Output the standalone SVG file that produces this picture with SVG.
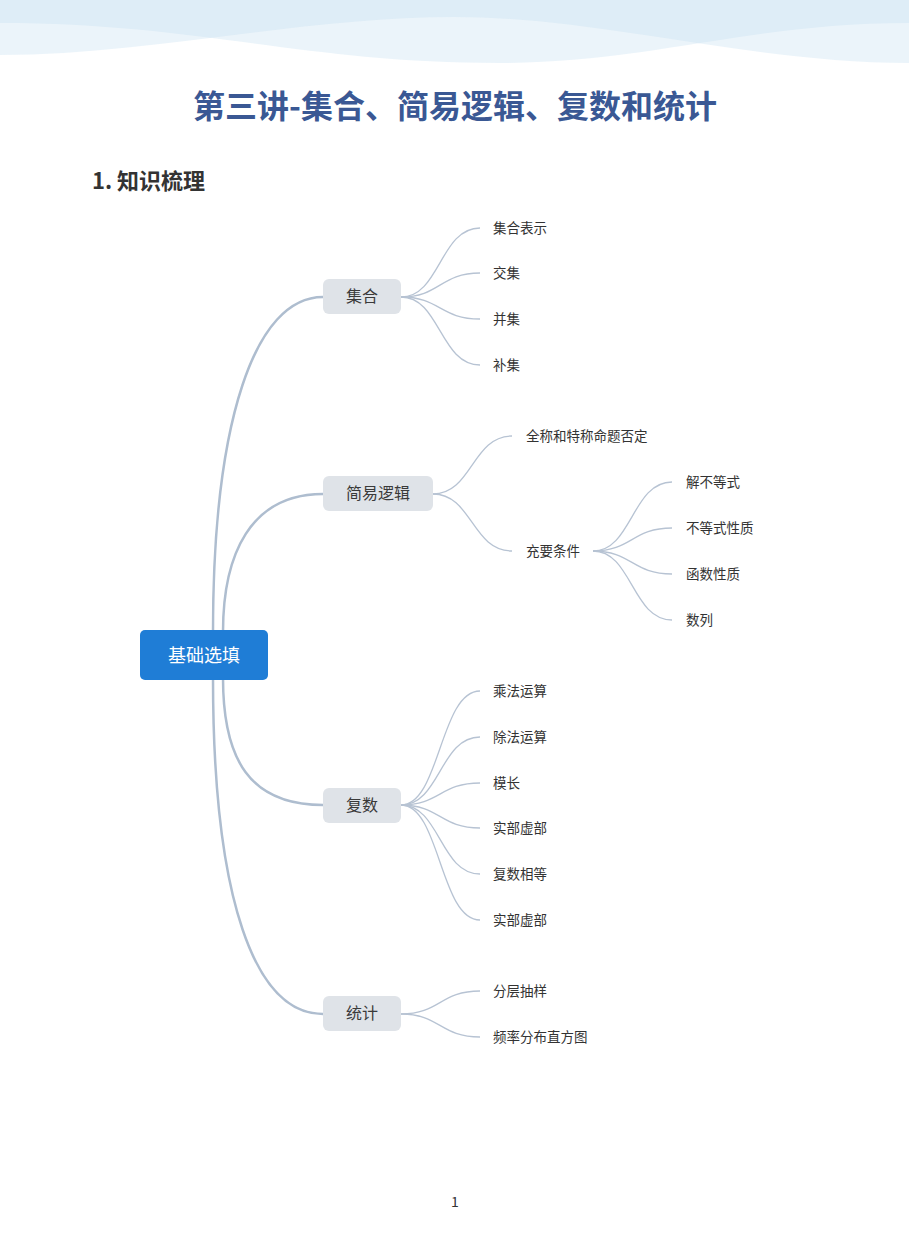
<svg xmlns="http://www.w3.org/2000/svg" width="909" height="1233" viewBox="0 0 909 1233">
<style>
.cjk{font-family:"Noto Sans CJK SC","Noto Sans",sans-serif;}
.title{font-size:32px;font-weight:bold;fill:#3a5894;}
.h1{font-size:22px;font-weight:bold;fill:#333333;}
.root{fill:#1f7dd6;}
.rootText{font-size:18px;fill:#ffffff;}
.l1{fill:#dfe3e8;}
.l1Text{font-size:16px;fill:#3a3a3a;}
.leaf{font-size:13.5px;fill:#333333;}
.main{fill:none;stroke:#aebdcf;stroke-width:2.5;}
.sub{fill:none;stroke:#b7c3d3;stroke-width:1.3;}
.wave{fill:#c5e0f2;fill-opacity:0.35;}
</style>
<rect width="909" height="1233" fill="#ffffff"/>
<g id="header">
<path class="wave" d="M0,0 H909 V23 C750,23 650,63 500,63 C300,63 200,23 0,23 Z"/>
<path class="wave" d="M0,0 H909 V63 C750,63 600,17 455,17 C300,17 150,55 0,55 Z"/>
</g>
<text class="cjk title" x="455" y="118" text-anchor="middle">第三讲-集合、简易逻辑、复数和统计</text>
<text class="cjk h1" x="92" y="189">1. 知识梳理</text>
<g id="connectors">
<path class="main" d="M213,632 C213,420 255,297 323,297"/>
<path class="main" d="M223,632 C223,555 250,494 323,494"/>
<path class="main" d="M223,678 C223,760 250,805 323,805"/>
<path class="main" d="M213,678 C213,900 255,1014 323,1014"/>
<path class="sub" d="M401,297 C440,297 440,228 480,228"/>
<path class="sub" d="M401,297 C440,297 440,273 480,273"/>
<path class="sub" d="M401,297 C440,297 440,319 480,319"/>
<path class="sub" d="M401,297 C440,297 440,365 480,365"/>
<path class="sub" d="M433,494 C472,494 472,436 512,436"/>
<path class="sub" d="M433,494 C472,494 472,551 512,551"/>
<path class="sub" d="M593,551 C632,551 632,482 672,482"/>
<path class="sub" d="M593,551 C632,551 632,528 672,528"/>
<path class="sub" d="M593,551 C632,551 632,574 672,574"/>
<path class="sub" d="M593,551 C632,551 632,620 672,620"/>
<path class="sub" d="M401,805 C440,805 440,691 480,691"/>
<path class="sub" d="M401,805 C440,805 440,737 480,737"/>
<path class="sub" d="M401,805 C440,805 440,783 480,783"/>
<path class="sub" d="M401,805 C440,805 440,828 480,828"/>
<path class="sub" d="M401,805 C440,805 440,874 480,874"/>
<path class="sub" d="M401,805 C440,805 440,920 480,920"/>
<path class="sub" d="M401,1014 C440,1014 440,991 480,991"/>
<path class="sub" d="M401,1014 C440,1014 440,1037 480,1037"/>
</g>
<g id="root">
<rect class="root" x="140" y="630" width="128" height="50" rx="5"/>
<text class="cjk rootText" x="204" y="662" text-anchor="middle">基础选填</text>
</g>
<g id="n-jihe">
<rect class="l1" x="323" y="279" width="78" height="35" rx="6"/>
<text class="cjk l1Text" x="362" y="302" text-anchor="middle">集合</text>
</g>
<g id="n-luoji">
<rect class="l1" x="323" y="476" width="110" height="35" rx="6"/>
<text class="cjk l1Text" x="378" y="499" text-anchor="middle">简易逻辑</text>
</g>
<g id="n-fushu">
<rect class="l1" x="323" y="788" width="78" height="35" rx="6"/>
<text class="cjk l1Text" x="362" y="811" text-anchor="middle">复数</text>
</g>
<g id="n-tongji">
<rect class="l1" x="323" y="996" width="78" height="35" rx="6"/>
<text class="cjk l1Text" x="362" y="1019" text-anchor="middle">统计</text>
</g>
<g id="leaves-jihe">
<text class="cjk leaf" x="493" y="233">集合表示</text>
<text class="cjk leaf" x="493" y="278">交集</text>
<text class="cjk leaf" x="493" y="324">并集</text>
<text class="cjk leaf" x="493" y="370">补集</text>
</g>
<g id="leaves-luoji">
<text class="cjk leaf" x="526" y="441">全称和特称命题否定</text>
<text class="cjk leaf" x="526" y="556">充要条件</text>
</g>
<g id="leaves-chongyao">
<text class="cjk leaf" x="686" y="487">解不等式</text>
<text class="cjk leaf" x="686" y="533">不等式性质</text>
<text class="cjk leaf" x="686" y="579">函数性质</text>
<text class="cjk leaf" x="686" y="625">数列</text>
</g>
<g id="leaves-fushu">
<text class="cjk leaf" x="493" y="696">乘法运算</text>
<text class="cjk leaf" x="493" y="742">除法运算</text>
<text class="cjk leaf" x="493" y="788">模长</text>
<text class="cjk leaf" x="493" y="833">实部虚部</text>
<text class="cjk leaf" x="493" y="879">复数相等</text>
<text class="cjk leaf" x="493" y="925">实部虚部</text>
</g>
<g id="leaves-tongji">
<text class="cjk leaf" x="493" y="996">分层抽样</text>
<text class="cjk leaf" x="493" y="1042">频率分布直方图</text>
</g>
<text class="cjk" x="455" y="1207" text-anchor="middle" font-size="14" fill="#333333">1</text>
</svg>
